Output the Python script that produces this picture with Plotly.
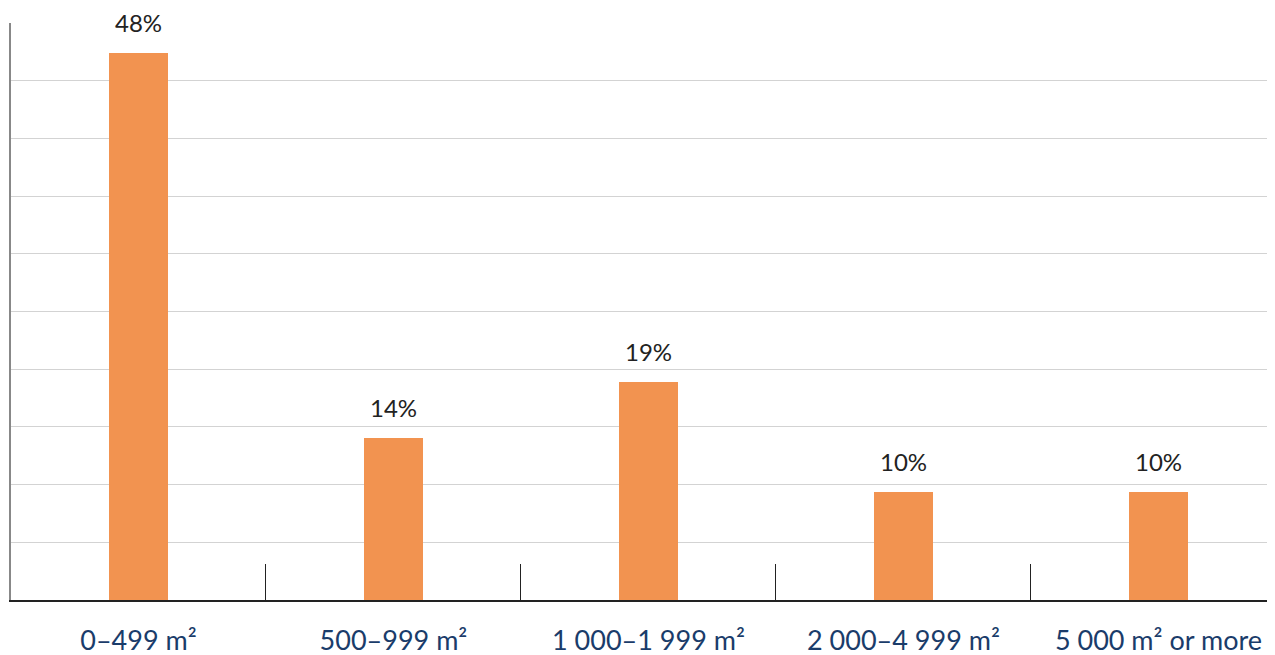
import plotly.graph_objects as go

categories = ["0–499 m²", "500–999 m²", "1 000–1 999 m²", "2 000–4 999 m²", "5 000 m² or more"]
values = [47.4, 14.0, 18.9, 9.4, 9.4]
labels = ["48%", "14%", "19%", "10%", "10%"]
grid_vals = [5, 10, 15, 20, 25, 30, 35, 40, 45]

fig = go.Figure()
fig.add_trace(go.Bar(
    x=categories, y=values, marker=dict(color="#F29350", line=dict(width=0)),
    width=0.23, hoverinfo="skip",
))
for c, v, t in zip(categories, values, labels):
    fig.add_annotation(x=c, y=v, text=t, showarrow=False, yanchor="bottom",
                       yshift=14, font=dict(family="Lato", size=24, color="#222222"))

fig.update_layout(
    width=1267, height=647,
    margin=dict(l=3, r=0, t=15, b=55, autoexpand=False),
    paper_bgcolor="white", plot_bgcolor="white",
    showlegend=False, bargap=0,
    xaxis=dict(
        range=[-0.5, 4.457], showline=True, linecolor="#222222", linewidth=1.5,
        ticks="inside", tickson="boundaries", ticklen=36, tickcolor="#222222", tickwidth=1,
        tickfont=dict(family="Lato", size=27, color="#1a3c6a"), ticklabelstandoff=16,
        showgrid=False, fixedrange=True, automargin=False,
    ),
    yaxis=dict(
        range=[0, 50], showline=True, linecolor="#888888", linewidth=1.5,
        tickvals=grid_vals, showticklabels=False, ticks="",
        showgrid=True, gridcolor="#d3d3d3", gridwidth=1, zeroline=False, automargin=False,
    ),
)
fig.write_html("out.html")
